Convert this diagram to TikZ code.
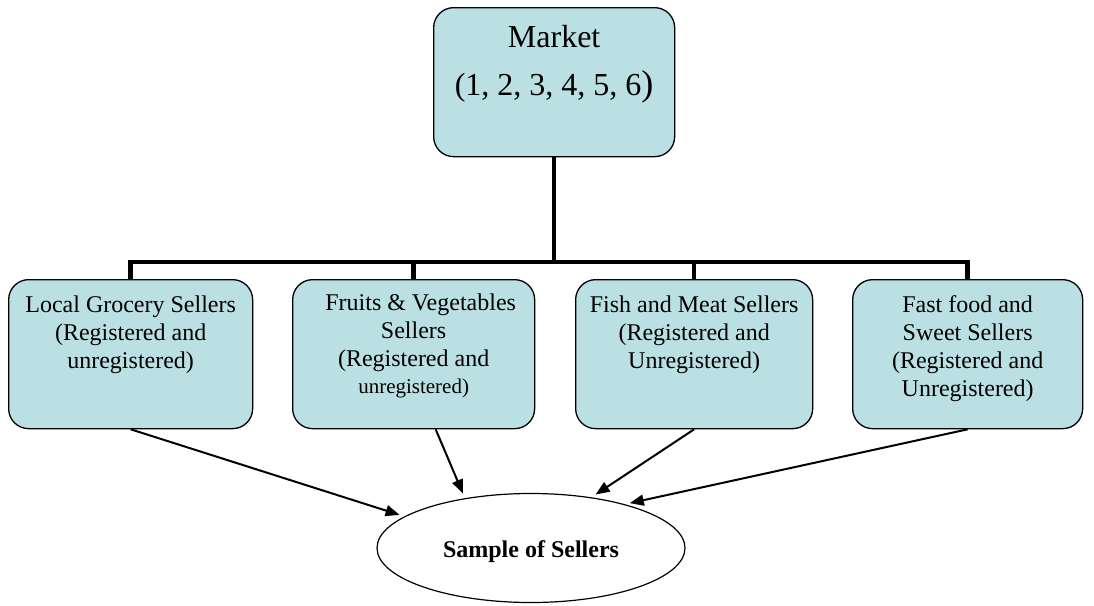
\documentclass[tikz,border=0pt]{standalone}
\usepackage{fontspec}
\setmainfont{Liberation Serif}
\usetikzlibrary{arrows.meta,shapes.geometric}
\definecolor{boxfill}{RGB}{187,224,227}
\newcommand\boxtxt[4]{\begin{minipage}[t][#2][t]{#1}\centering\vspace*{#3}#4\end{minipage}}
\begin{document}
\begin{tikzpicture}[x=1pt,y=-1pt,
  box/.style={draw=black, line width=1.3pt, fill=boxfill, rounded corners=20pt, inner sep=0pt, anchor=north west},
  tree/.style={line width=4.6pt, line join=miter},
  arr/.style={line width=2pt, shorten >=5pt, -{Triangle[length=14pt,width=11pt]}},
  ]
\useasboundingbox (0,0) rectangle (1094,605);

\node[box] (market) at (433,7) {\boxtxt{241pt}{149pt}{6.4pt}{\fontsize{32}{48}\selectfont\strut Market\\(1, 2, 3, 4, 5, 6{\fontsize{36}{48}\selectfont)}}};

\node[box] (b1) at (8,279) {\boxtxt{244pt}{149pt}{13.4pt}{\fontsize{24}{28}\selectfont\strut Local Grocery Sellers\\(Registered and\\unregistered)}};
\node[box] (b2) at (292,279) {\boxtxt{242pt}{149pt}{11.4pt}{\fontsize{24}{28}\selectfont\strut\hspace*{14pt}Fruits \& Vegetables\\Sellers\\(Registered and\par\fontsize{21}{27}\selectfont unregistered)}};
\node[box] (b3) at (575,279) {\boxtxt{237pt}{149pt}{13.4pt}{\fontsize{24}{28}\selectfont\strut Fish and Meat Sellers\\(Registered and\\Unregistered)}};
\node[box] (b4) at (852,279) {\boxtxt{230pt}{149pt}{13.4pt}{\fontsize{24}{28}\selectfont\strut Fast food and\\Sweet Sellers\\(Registered and\\Unregistered)}};

\node[draw, ellipse, line width=1.2pt, minimum width=308pt, minimum height=109pt, inner sep=0pt, text height=18pt, text depth=0pt, font=\bfseries\fontsize{24}{28}\selectfont] (sample) at (531,548) {Sample of Sellers};

\coordinate (bar) at (554,262);
\draw[tree] (market.south -| bar) -- (bar);
\draw[tree] (b1.north) |- (b4.north |- bar) -- (b4.north);
\draw[tree] (b2.north) -- (b2.north |- bar);
\draw[tree] (b3.north) -- (b3.north |- bar);

\draw[arr] (b1.south) -- (sample.166);
\draw[arr] ([xshift=22pt]b2.south) -- (sample.143);
\draw[arr] (b3.south) -- (sample.40);
\draw[arr] (b4.south) -- (sample.25);
\end{tikzpicture}
\end{document}
